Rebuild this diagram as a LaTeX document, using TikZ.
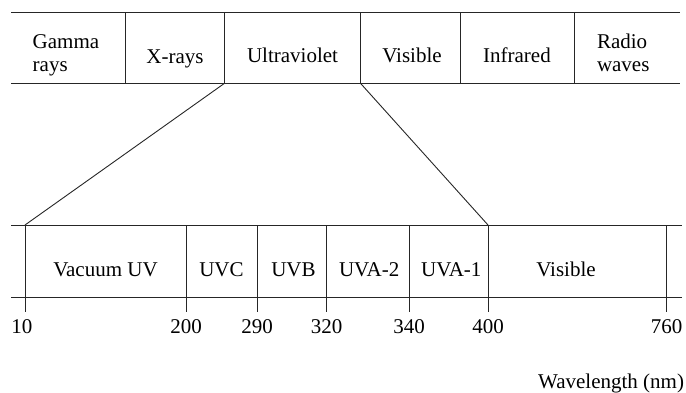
\documentclass[tikz,border=0pt]{standalone}
\usepackage{fontspec}
\setmainfont{Liberation Serif}
\begin{document}
\begin{tikzpicture}[x=1pt,y=-1pt,
  rule/.style={draw=black!85, line width=0.9pt},
  lbl/.style={inner sep=0pt, outer sep=0pt, anchor=base, font=\fontsize{21}{24}\selectfont},
  lblw/.style={lbl, anchor=base west}]
\useasboundingbox (0,0) rectangle (686,392);
% top bar
\coordinate (tTL) at (11,12.7);
\coordinate (tTR) at (680,12.7);
\coordinate (tBL) at (11,83.3);
\coordinate (tBR) at (680,83.3);
\draw[rule] (tTL) -- (tTR);
\draw[rule] (tBL) -- (tBR);
\foreach \n/\x in {d1/125, d2/224.5, d3/360.5, d4/460, d5/574}{
  \coordinate (\n t) at (\x,12.7);
  \coordinate (\n b) at (\x,83.3);
  \draw[rule] (\n t) -- (\n b);
}
\node[lblw] (g1) at (32.7,48.3) {Gamma};
\node[lblw] (g2) at (32.7,71.7) {rays};
\node[lbl] (xr) at (175,63) {X-rays};
\node[lbl] (uv) at (292.5,62.3) {Ultraviolet};
\node[lbl] (vis) at (412,62.3) {Visible};
\node[lbl] (ir) at (517,62.3) {Infrared};
\node[lblw] (r1) at (597,48.3) {Radio};
\node[lblw] (r2) at (597,71.7) {waves};
% bottom bar
\coordinate (bTL) at (11,225);
\coordinate (bTR) at (682,225);
\coordinate (bBL) at (11,297);
\coordinate (bBR) at (682,297);
\draw[rule] (bTL) -- (bTR);
\draw[rule] (bBL) -- (bBR);
\foreach \n/\x/\v in {e1/25/10, e2/186/200, e3/257/290, e4/326.5/320, e5/409/340, e6/488/400, e7/666.5/760}{
  \coordinate (\n t) at (\x,225);
  \coordinate (\n b) at (\x,312);
  \draw[rule] (\n t) -- (\n b);
}
\node[lbl] (t1) at (22,333) {10};
\node[lbl] (t2) at (186,333) {200};
\node[lbl] (t3) at (257,333) {290};
\node[lbl] (t4) at (326.5,333) {320};
\node[lbl] (t5) at (409,333) {340};
\node[lbl] (t6) at (488,333) {400};
\node[lbl] (t7) at (666.5,333) {760};
\node[lbl] (vac) at (105.5,276.7) {Vacuum UV};
\node[lbl] (uvc) at (221.5,276.7) {UVC};
\node[lbl] (uvb) at (293.5,276.7) {UVB};
\node[lbl] (uva2) at (369.2,276.7) {UVA-2};
\node[lbl] (uva1) at (451.3,276.7) {UVA-1};
\node[lbl] (vis2) at (566,276.7) {Visible};
% zoom lines
\draw[rule] (d2b) -- (e1t);
\draw[rule] (d3b) -- (e6t);
\node[lbl, anchor=base east] (wl) at (684,388) {Wavelength (nm)};
\end{tikzpicture}
\end{document}
